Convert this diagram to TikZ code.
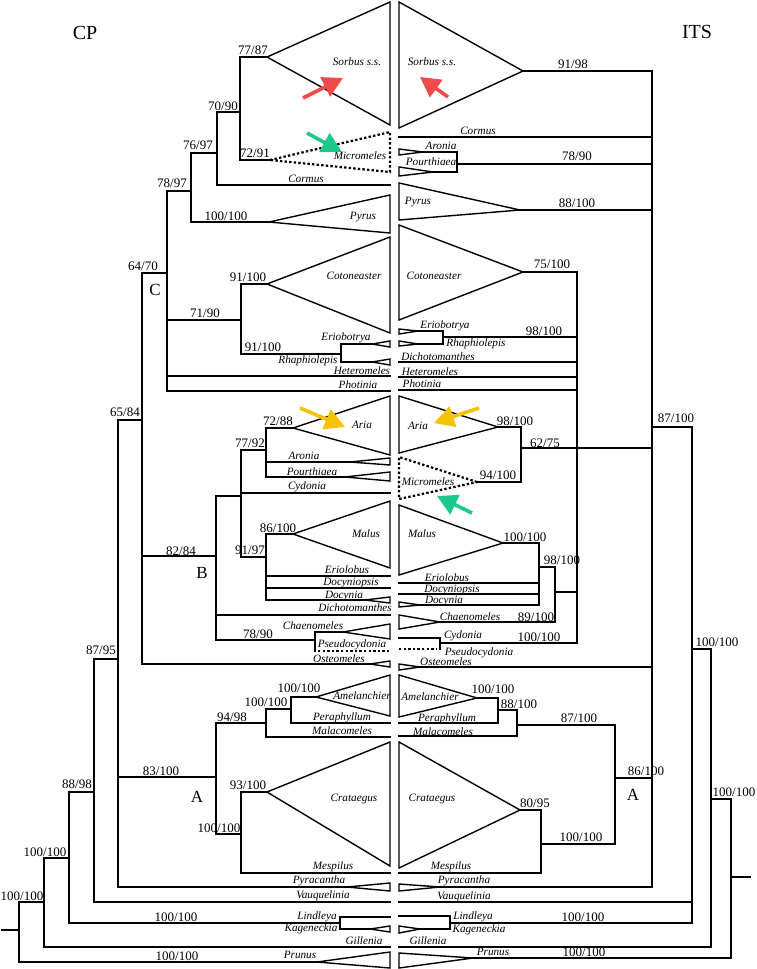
\documentclass[tikz,border=0pt]{standalone}
\usepackage{fontspec}
\setmainfont{Liberation Serif}
\usetikzlibrary{arrows.meta}
\definecolor{arRed}{HTML}{F04A4A}
\definecolor{arGreen}{HTML}{1DC98A}
\definecolor{arYellow}{HTML}{F7C200}
\newcounter{lbl}
\tikzset{
  br/.style={line width=1.4pt, line join=miter, line cap=rect},
  tri/.style={line width=1.4pt, line join=miter},
  dotl/.style={line width=2.2pt, dash pattern=on 2.4pt off 2.2pt},
  itl/.style={font=\fontsize{11.2}{12}\selectfont\itshape, inner sep=0pt},
  numl/.style={font=\fontsize{13}{14}\selectfont, inner sep=0pt},
  bigl/.style={font=\fontsize{17}{19}\selectfont, inner sep=0pt},
  titl/.style={font=\fontsize{20}{22}\selectfont, inner sep=0pt},
  bigarrow/.style={line width=3.6pt, -{Triangle[length=20pt,width=21pt]}},
}
\newcommand\IL[3]{\stepcounter{lbl}\node[itl] (t\arabic{lbl}) at (#1,#2) {#3};}
\newcommand\NL[3]{\stepcounter{lbl}\node[numl] (n\arabic{lbl}) at (#1,#2) {#3};}
\begin{document}
\begin{tikzpicture}[x=1pt,y=-1pt]
\useasboundingbox (0,0) rectangle (756,969);
\fill[white] (0,0) rectangle (756,969);

% ================= LEFT TREE (CP) =================
\draw[tri] (267,57)--(390,2)--(390,125)--cycle;
\draw[dotl] (270,160)--(390,132)--(390,172)--cycle;
\draw[tri] (269,222)--(390,195)--(390,233)--cycle;
\draw[tri] (267,284)--(390,237)--(390,333)--cycle;
\draw[tri] (372,344)--(390,341)--(390,347)--cycle;
\draw[tri] (372,362)--(390,359)--(390,365)--cycle;
\draw[tri] (293,428)--(390,396)--(390,455)--cycle;
\draw[tri] (350,462)--(390,458)--(390,465)--cycle;
\draw[tri] (345,477)--(390,472)--(390,481)--cycle;
\draw[tri] (293,534)--(390,501)--(390,568)--cycle;
\draw[tri] (365,600)--(390,597)--(390,603)--cycle;
\draw[tri] (343,632)--(390,624)--(390,639)--cycle;
\draw[tri] (370,664)--(390,661)--(390,667)--cycle;
\draw[tri] (316,697)--(390,675)--(390,716)--cycle;
\draw[tri] (267,792)--(390,742)--(390,866)--cycle;
\draw[tri] (347,887)--(390,883)--(390,891)--cycle;
\draw[tri] (370,929)--(390,926)--(390,932)--cycle;
\draw[tri] (317,962)--(390,952)--(390,968)--cycle;

\draw[br]
 (240,57)--(267,57)
 (240,57)--(240,160) (240,160)--(270,160)
 (217,112)--(240,112) (217,112)--(217,185) (217,185)--(390,185)
 (191,153)--(217,153) (191,153)--(191,222) (191,222)--(269,222)
 (167,191)--(191,191) (167,191)--(167,391)
 (142,273)--(167,273)
 (167,320)--(241,320) (241,284)--(241,354) (241,284)--(267,284)
 (241,354)--(341,354) (341,344)--(341,362) (341,344)--(372,344) (341,362)--(372,362)
 (167,376)--(390,376) (167,391)--(390,391)
 (142,273)--(142,664) (118,420)--(142,420)
 (142,556)--(216,556) (216,496)--(216,640) (216,496)--(241,496)
 (241,450)--(241,557) (241,450)--(266,450)
 (266,428)--(266,477) (266,428)--(293,428) (266,462)--(350,462) (266,477)--(345,477)
 (241,493)--(390,493)
 (241,557)--(266,557) (266,534)--(266,600) (266,534)--(293,534)
 (266,576)--(390,576) (266,588)--(390,588) (266,600)--(365,600)
 (216,615)--(390,615)
 (216,640)--(315,640) (315,632)--(315,651) (315,632)--(343,632)
 (142,664)--(370,664)
 (118,420)--(118,887) (94,659)--(118,659)
 (118,777)--(216,777) (216,723)--(216,834) (216,723)--(266,723)
 (266,709)--(266,737) (266,709)--(291,709) (291,697)--(291,723) (291,697)--(316,697)
 (291,723)--(390,723) (266,737)--(390,737)
 (216,834)--(241,834) (241,792)--(241,873) (241,792)--(267,792) (241,873)--(390,873)
 (118,887)--(347,887)
 (94,659)--(94,902) (94,902)--(390,902) (69,792)--(94,792)
 (69,792)--(69,923) (69,923)--(340,923) (340,917)--(340,929) (340,917)--(390,917) (340,929)--(370,929)
 (44,858)--(69,858) (44,858)--(44,947) (44,947)--(390,947)
 (19,902)--(44,902) (19,902)--(19,962) (19,962)--(317,962) (2,930)--(19,930);
\draw[dotl] (318,651)--(390,651);

% ================= RIGHT TREE (ITS) =================
\draw[tri] (523,71)--(399,2)--(399,128)--cycle;
\draw[dotl] (477,482)--(399,457)--(399,499)--cycle;
\draw[tri] (520,210)--(399,183)--(399,220)--cycle;
\draw[tri] (523,272)--(399,225)--(399,320)--cycle;
\draw[tri] (423,152)--(399,149)--(399,155)--cycle;
\draw[tri] (433,172)--(399,167)--(399,176)--cycle;
\draw[tri] (418,331)--(399,329)--(399,334)--cycle;
\draw[tri] (418,344)--(399,341)--(399,346)--cycle;
\draw[tri] (498,427)--(399,396)--(399,453)--cycle;
\draw[tri] (503,543)--(399,505)--(399,575)--cycle;
\draw[tri] (420,605)--(399,602)--(399,607)--cycle;
\draw[tri] (440,622)--(399,615)--(399,629)--cycle;
\draw[tri] (420,667)--(399,664)--(399,670)--cycle;
\draw[tri] (477,698)--(399,675)--(399,717)--cycle;
\draw[tri] (520,810)--(399,742)--(399,868)--cycle;
\draw[tri] (440,887)--(399,884)--(399,891)--cycle;
\draw[tri] (420,929)--(399,926)--(399,933)--cycle;
\draw[tri] (473,958)--(399,953)--(399,968)--cycle;

\draw[br]
 (523,71)--(652,71) (652,71)--(652,887)
 (399,137)--(652,137)
 (423,152)--(457,152) (433,172)--(457,172) (457,152)--(457,172) (457,164)--(652,164)
 (520,210)--(652,210)
 (523,272)--(577,272) (577,272)--(577,643)
 (418,331)--(443,331) (418,344)--(443,344) (443,331)--(443,344) (443,337)--(577,337)
 (399,362)--(577,362) (399,377)--(577,377) (399,390)--(577,390)
 (498,427)--(521,427) (521,427)--(521,482) (477,482)--(521,482) (521,448)--(652,448)
 (503,543)--(539,543) (539,543)--(539,605)
 (399,583)--(539,583) (399,594)--(539,594) (420,605)--(539,605)
 (539,567)--(555,567) (555,567)--(555,622) (440,622)--(555,622) (555,592)--(577,592)
 (399,638)--(440,638) (440,638)--(440,649) (440,643)--(577,643)
 (420,667)--(652,667)
 (652,427)--(692,427) (692,427)--(692,923)
 (477,698)--(498,698) (498,698)--(498,723) (399,723)--(498,723)
 (498,710)--(517,710) (517,710)--(517,736) (399,736)--(517,736) (517,725)--(615,725)
 (615,725)--(615,844) (615,778)--(652,778)
 (520,810)--(541,810) (541,810)--(541,873) (399,873)--(541,873) (541,844)--(615,844)
 (440,887)--(652,887)
 (399,902)--(692,902)
 (399,916)--(450,916) (420,929)--(450,929) (450,916)--(450,929) (450,923)--(692,923)
 (692,649)--(711,649) (711,649)--(711,947) (399,947)--(711,947)
 (711,799)--(731,799) (731,799)--(731,958) (473,958)--(731,958) (731,877)--(750,877);
\draw[dotl] (399,649)--(437,649);

% ================= titles / clade letters =================
\node[titl] (cp) at (85,33) {CP};
\node[titl] (its) at (697,32) {ITS};
\node[bigl] (cC) at (155,290) {C};
\node[bigl] (cB) at (202,573) {B};
\node[bigl] (cA) at (197,797) {A};
\node[bigl] (cA2) at (633,795) {A};

% ================= left numbers =================
\NL{253}{50}{77/87}
\NL{223}{106}{70/90}
\NL{255}{153}{72/91}
\NL{198}{145}{76/97}
\NL{172}{183}{78/97}
\NL{226}{216}{100/100}
\NL{143}{266}{64/70}
\NL{248}{277}{91/100}
\NL{205}{313}{71/90}
\NL{263}{347}{91/100}
\NL{125}{412}{65/84}
\NL{278}{421}{72/88}
\NL{250}{443}{77/92}
\NL{278}{528}{86/100}
\NL{181}{551}{82/84}
\NL{250}{550}{91/97}
\NL{258}{634}{78/90}
\NL{101}{650}{87/95}
\NL{299}{688}{100/100}
\NL{266}{702}{100/100}
\NL{232}{717}{94/98}
\NL{161}{771}{83/100}
\NL{248}{785}{93/100}
\NL{219}{828}{100/100}
\NL{77}{784}{88/98}
\NL{45}{852}{100/100}
\NL{22}{896}{100/100}
\NL{176}{917}{100/100}
\NL{177}{956}{100/100}

% ================= left names =================
\IL{357}{62}{Sorbus s.s.}
\IL{360}{156}{Micromeles}
\IL{306}{179}{Cormus}
\IL{363}{217}{Pyrus}
\IL{354}{276}{Cotoneaster}
\IL{346}{338}{Eriobotrya}
\IL{308}{361}{Rhaphiolepis}
\IL{362}{371}{Heteromeles}
\IL{358}{385}{Photinia}
\IL{362}{425}{Aria}
\IL{304}{456}{Aronia}
\IL{312}{472}{Pourthiaea}
\IL{307}{487}{Cydonia}
\IL{366}{534}{Malus}
\IL{347}{570}{Eriolobus}
\IL{351}{583}{Docyniopsis}
\IL{344}{596}{Docynia}
\IL{355}{608}{Dichotomanthes}
\IL{313}{626}{Chaenomeles}
\IL{352}{645}{Pseudocydonia}
\IL{339}{659}{Osteomeles}
\IL{362}{696}{Amelanchier}
\IL{342}{718}{Peraphyllum}
\IL{342}{731}{Malacomeles}
\IL{354}{799}{Crataegus}
\IL{333}{867}{Mespilus}
\IL{319}{881}{Pyracantha}
\IL{323}{896}{Vauquelinia}
\IL{317}{917}{Lindleya}
\IL{311}{929}{Kageneckia}
\IL{364}{941}{Gillenia}
\IL{300}{955}{Prunus}

% ================= right numbers =================
\NL{573}{64}{91/98}
\NL{577}{156}{78/90}
\NL{577}{203}{88/100}
\NL{552}{264}{75/100}
\NL{544}{331}{98/100}
\NL{515}{421}{98/100}
\NL{676}{418}{87/100}
\NL{545}{443}{62/75}
\NL{498}{475}{94/100}
\NL{525}{537}{100/100}
\NL{562}{560}{98/100}
\NL{536}{617}{89/100}
\NL{539}{637}{100/100}
\NL{717}{642}{100/100}
\NL{493}{689}{100/100}
\NL{519}{704}{88/100}
\NL{579}{718}{87/100}
\NL{646}{771}{86/100}
\NL{535}{803}{80/95}
\NL{581}{837}{100/100}
\NL{734}{792}{100/100}
\NL{583}{917}{100/100}
\NL{584}{952}{100/100}

% ================= right names =================
\IL{432}{62}{Sorbus s.s.}
\IL{478}{131}{Cormus}
\IL{441}{146}{Aronia}
\IL{431}{162}{Pourthiaea}
\IL{418}{202}{Pyrus}
\IL{434}{276}{Cotoneaster}
\IL{445}{326}{Eriobotrya}
\IL{476}{344}{Rhaphiolepis}
\IL{438}{357}{Dichotomanthes}
\IL{430}{372}{Heteromeles}
\IL{422}{384}{Photinia}
\IL{418}{426}{Aria}
\IL{428}{482}{Micromeles}
\IL{422}{534}{Malus}
\IL{447}{578}{Eriolobus}
\IL{452}{590}{Docyniopsis}
\IL{444}{601}{Docynia}
\IL{470}{617}{Chaenomeles}
\IL{463}{636}{Cydonia}
\IL{479}{653}{Pseudocydonia}
\IL{446}{662}{Osteomeles}
\IL{430}{697}{Amelanchier}
\IL{447}{719}{Peraphyllum}
\IL{443}{732}{Malacomeles}
\IL{432}{799}{Crataegus}
\IL{451}{867}{Mespilus}
\IL{464}{881}{Pyracantha}
\IL{464}{897}{Vauquelinia}
\IL{473}{917}{Lindleya}
\IL{479}{930}{Kageneckia}
\IL{428}{941}{Gillenia}
\IL{493}{952}{Prunus}

% ================= arrows =================
\coordinate (rA1) at (303,98);  \coordinate (rA2) at (343,78);
\coordinate (rB1) at (448,97);  \coordinate (rB2) at (420,77);
\coordinate (gA1) at (307,133); \coordinate (gA2) at (342,152);
\coordinate (gB1) at (472,513); \coordinate (gB2) at (437,496);
\coordinate (yA1) at (300,408); \coordinate (yA2) at (345,427);
\coordinate (yB1) at (479,408); \coordinate (yB2) at (434,423);
\draw[bigarrow, arRed] (rA1)--(rA2);
\draw[bigarrow, arRed] (rB1)--(rB2);
\draw[bigarrow, arGreen] (gA1)--(gA2);
\draw[bigarrow, arGreen] (gB1)--(gB2);
\draw[bigarrow, arYellow] (yA1)--(yA2);
\draw[bigarrow, arYellow] (yB1)--(yB2);
\end{tikzpicture}
\end{document}
